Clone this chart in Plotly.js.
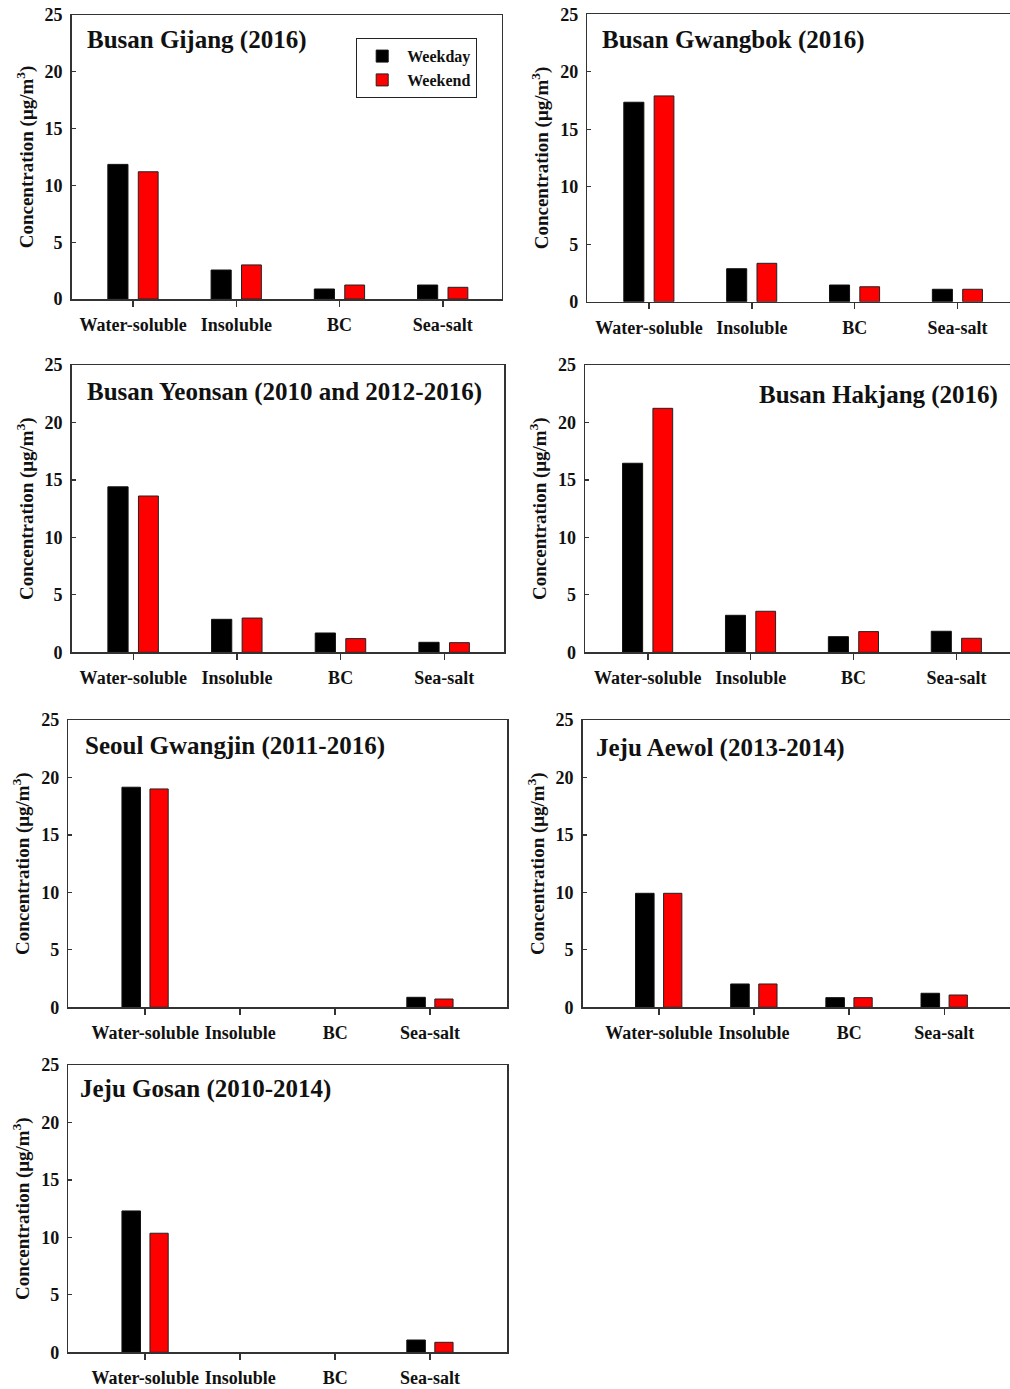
<!DOCTYPE html>
<html>
<head>
<meta charset="utf-8">
<script src="https://cdn.plot.ly/plotly-3.0.1.min.js"></script>
<style>html,body{margin:0;padding:0;background:#fff;}#chart{width:1010px;height:1389px;}</style>
</head>
<body>
<div id="chart"></div>
<script>
// ---- data ----
const categories = ['Water-soluble', 'Insoluble', 'BC', 'Sea-salt'];
const seriesNames = ['Weekday', 'Weekend'];
const siteTitles = [
  'Busan Gijang (2016)',
  'Busan Gwangbok (2016)',
  'Busan Yeonsan (2010 and 2012-2016)',
  'Busan Hakjang (2016)',
  'Seoul Gwangjin (2011-2016)',
  'Jeju Aewol (2013-2014)',
  'Jeju Gosan (2010-2014)'
];
const gijangWeekday   = [11.85, 2.55, 0.88, 1.23];
const gijangWeekend   = [11.2, 3.0, 1.23, 1.03];
const gwangbokWeekday = [17.35, 2.87, 1.45, 1.08];
const gwangbokWeekend = [17.9, 3.34, 1.3, 1.08];
const yeonsanWeekday  = [14.4, 2.87, 1.68, 0.87];
const yeonsanWeekend  = [13.6, 2.98, 1.19, 0.84];
const hakjangWeekday  = [16.45, 3.22, 1.36, 1.83];
const hakjangWeekend  = [21.23, 3.57, 1.8, 1.22];
const gwangjinWeekday = [19.15, null, null, 0.87];
const gwangjinWeekend = [19.0, null, null, 0.72];
const aewolWeekday    = [9.92, 2.03, 0.84, 1.22];
const aewolWeekend    = [9.92, 2.03, 0.84, 1.07];
const gosanWeekday    = [12.3, null, null, 1.07];
const gosanWeekend    = [10.36, null, null, 0.87];

const weekdaySeries = [gijangWeekday, gwangbokWeekday, yeonsanWeekday, hakjangWeekday, gwangjinWeekday, aewolWeekday, gosanWeekday];
const weekendSeries = [gijangWeekend, gwangbokWeekend, yeonsanWeekend, hakjangWeekend, gwangjinWeekend, aewolWeekend, gosanWeekend];

// ---- layout geometry (pixels) ----
const W = 1010, H = 1389;
const panels = [
  {x0: 71.7, x1: 501.7, y0: 15,  y1: 299,    xr: [-0.595, 3.57], mirrorY: true,  tx: 85,  ty: 40,   align: 'left'},
  {x0: 587.3, x1: 1010, y0: 14.3, y1: 301.7, xr: [-0.6, 3.51],   mirrorY: false, tx: 600, ty: 40,   align: 'left'},
  {x0: 71.7, x1: 504,  y0: 365, y1: 652.3,  xr: [-0.594, 3.576], mirrorY: true, tx: 85,  ty: 392,  align: 'left'},
  {x0: 585,  x1: 1010, y0: 365, y1: 652.3,  xr: [-0.61, 3.52],   mirrorY: false, tx: 1000, ty: 395, align: 'right'},
  {x0: 68.3, x1: 507,  y0: 720, y1: 1007.3, xr: [-0.81, 3.81],   mirrorY: true,  tx: 83,  ty: 746,  align: 'left'},
  {x0: 582.7, x1: 1010, y0: 720, y1: 1007.3, xr: [-0.8, 3.69],   mirrorY: false, tx: 594, ty: 748,  align: 'left'},
  {x0: 68.3, x1: 507,  y0: 1065, y1: 1352.3, xr: [-0.81, 3.81],  mirrorY: true,  tx: 78,  ty: 1089, align: 'left'}
];

const FONT = 'Liberation Serif, Times New Roman, serif';
const AX = '#333333';

const traces = [];
const layout = {
  width: W, height: H,
  margin: {l: 0, r: 0, t: 0, b: 0},
  paper_bgcolor: '#ffffff',
  plot_bgcolor: '#ffffff',
  font: {family: FONT, color: '#111', size: 16, weight: 'bold'},
  barmode: 'group',
  showlegend: true,
  legend: {
    x: 356 / W, y: 1 - 38 / H, xanchor: 'left', yanchor: 'top',
    bordercolor: '#222', borderwidth: 1.2, bgcolor: '#fff',
    font: {family: FONT, size: 16, weight: 'bold', color: '#111'},
    itemwidth: 40, tracegroupgap: 0
  },
  annotations: []
};

panels.forEach((p, i) => {
  const n = i + 1;
  const xa = n === 1 ? 'x' : 'x' + n;
  const ya = n === 1 ? 'y' : 'y' + n;
  traces.push({
    type: 'bar', name: seriesNames[0], x: categories, y: weekdaySeries[i],
    xaxis: xa, yaxis: ya, offset: -0.245, width: 0.195,
    marker: {color: '#000000', line: {color: '#111', width: 1}},
    showlegend: i === 0, legendgroup: 'wd', hoverinfo: 'x+y'
  });
  traces.push({
    type: 'bar', name: seriesNames[1], x: categories, y: weekendSeries[i],
    xaxis: xa, yaxis: ya, offset: 0.05, width: 0.192,
    marker: {color: '#ff0000', line: {color: '#222', width: 1}},
    showlegend: i === 0, legendgroup: 'we', hoverinfo: 'x+y'
  });
  const xKey = n === 1 ? 'xaxis' : 'xaxis' + n;
  const yKey = n === 1 ? 'yaxis' : 'yaxis' + n;
  layout[xKey] = {
    domain: [p.x0 / W, Math.min(1, p.x1 / W)],
    anchor: ya, type: 'category', categoryorder: 'array', categoryarray: categories,
    range: p.xr, showline: true, linecolor: AX, linewidth: 1.5, mirror: true,
    ticks: 'outside', ticklen: 6, tickwidth: 1.5, tickcolor: AX,
    showgrid: false, zeroline: false, fixedrange: true,
    ticklabelstandoff: 3,
    tickfont: {family: FONT, size: 18, weight: 'bold', color: '#111'}
  };
  layout[yKey] = {
    domain: [1 - p.y1 / H, 1 - p.y0 / H],
    anchor: xa, range: [0, 25], dtick: 5, tick0: 0,
    showline: true, linecolor: AX, linewidth: 1.5, mirror: p.mirrorY,
    ticks: 'inside', ticklen: 4, tickwidth: 1.2, tickcolor: AX,
    showgrid: false, zeroline: false, fixedrange: true,
    ticklabelstandoff: 4,
    tickfont: {family: FONT, size: 18, weight: 'bold', color: '#111'},
    title: {text: 'Concentration (μg/m<sup>3</sup>)', standoff: 6,
            font: {family: FONT, size: 19, weight: 'bold', color: '#111'}}
  };
  layout.annotations.push({
    text: siteTitles[i], xref: 'paper', yref: 'paper',
    x: p.tx / W, y: 1 - p.ty / H,
    xanchor: p.align, yanchor: 'middle', showarrow: false,
    font: {family: FONT, size: 25, weight: 'bold', color: '#111'}
  });
});

Plotly.newPlot('chart', traces, layout, {displayModeBar: false, staticPlot: true});
</script>
</body>
</html>
